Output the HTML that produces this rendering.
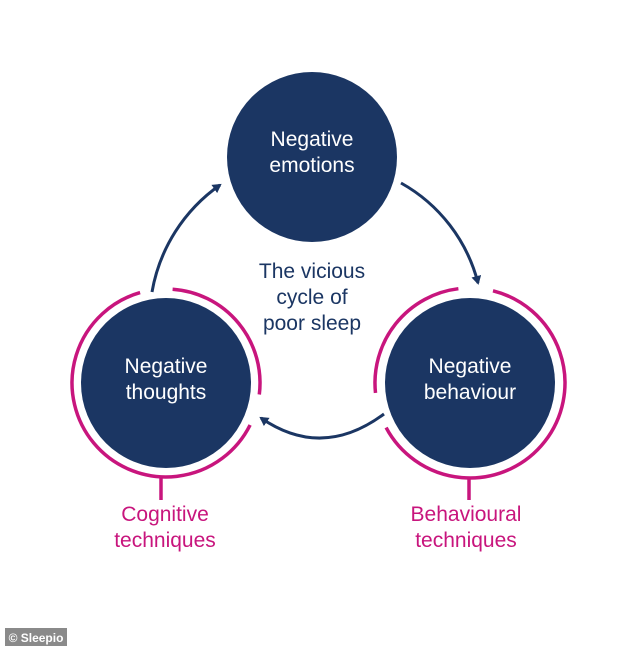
<!DOCTYPE html>
<html><head><style>
body{margin:0;background:#fff;}
svg{display:block}
text{font-family:"Liberation Sans",sans-serif;}
</style></head><body>
<svg width="634" height="647" viewBox="0 0 634 647" xmlns="http://www.w3.org/2000/svg">
<defs>
<marker id="ah" markerWidth="10" markerHeight="10" refX="7" refY="5" orient="auto" markerUnits="userSpaceOnUse">
<path d="M0,0 L9,5 L0,10 Z" fill="#1b3663"/>
</marker>
</defs>
<path d="M152,292 A165,165 0 0 1 220,185" fill="none" stroke="#1b3663" stroke-width="3" marker-end="url(#ah)"/>
<path d="M401,183 A160,160 0 0 1 478,283" fill="none" stroke="#1b3663" stroke-width="3" marker-end="url(#ah)"/>
<path d="M384,414 Q322,460 261,418" fill="none" stroke="#1b3663" stroke-width="3" marker-end="url(#ah)"/>
<circle cx="312" cy="157" r="85" fill="#1b3663"/>
<circle cx="166" cy="383" r="85" fill="#1b3663"/>
<circle cx="470" cy="383" r="85" fill="#1b3663"/>
<g fill="none" stroke="#c8157d" stroke-width="3.5">
<path d="M250.1,425 A94,94 0 1 1 140.1,292.6"/>
<path d="M172.6,289.2 A94,94 0 0 1 259.3,394.5"/>
<line x1="161" y1="477" x2="161" y2="500"/>
<path d="M493,290.8 A95,95 0 1 1 386.1,427.6"/>
<path d="M375.5,392.9 A95,95 0 0 1 458.4,288.7"/>
<line x1="469" y1="478" x2="469" y2="500"/>
</g>
<g fill="#fff" font-size="21" text-anchor="middle">
<text x="312" y="146">Negative</text><text x="312" y="172">emotions</text>
<text x="166" y="373">Negative</text><text x="166" y="399">thoughts</text>
<text x="470" y="373">Negative</text><text x="470" y="399">behaviour</text>
</g>
<g fill="#1b3663" font-size="21" text-anchor="middle">
<text x="312" y="278">The vicious</text><text x="312" y="304">cycle of</text><text x="312" y="330">poor sleep</text>
</g>
<g fill="#c8157d" font-size="21" text-anchor="middle">
<text x="165" y="521">Cognitive</text><text x="165" y="547">techniques</text>
<text x="466" y="521">Behavioural</text><text x="466" y="547">techniques</text>
</g>
<rect x="5" y="628" width="62" height="18" fill="#8a8a8a"/>
<text x="36" y="642" fill="#fff" font-size="12" font-weight="bold" text-anchor="middle">© Sleepio</text>
</svg>
</body></html>
